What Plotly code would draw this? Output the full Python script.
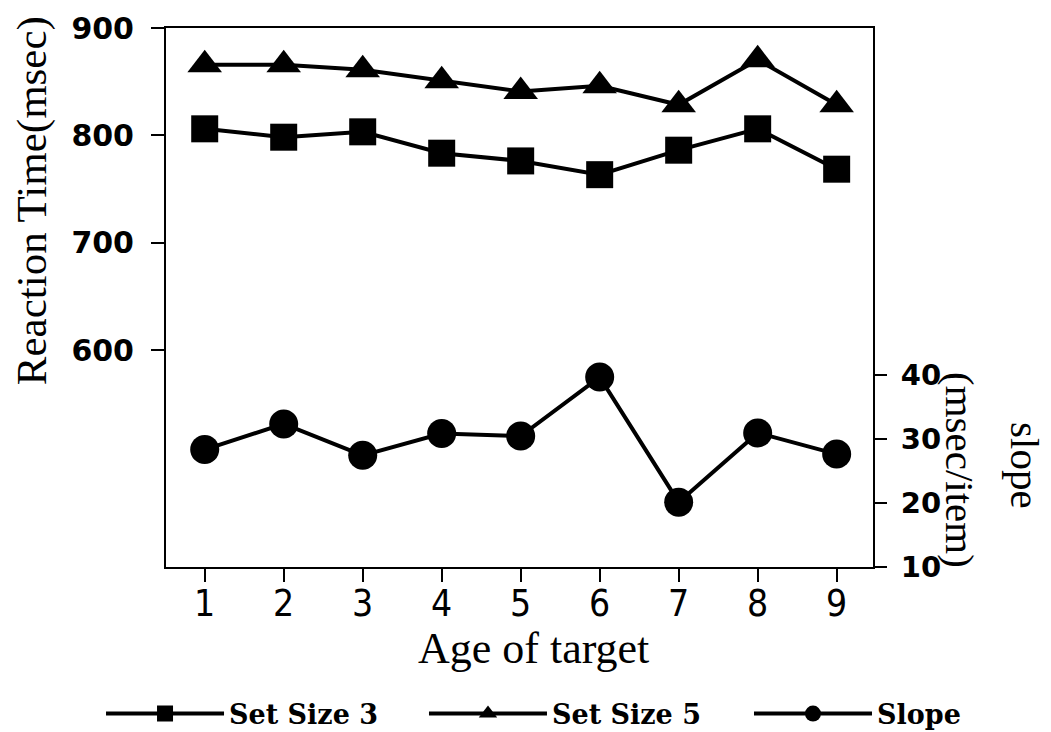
import plotly.graph_objects as go

ages = [1, 2, 3, 4, 5, 6, 7, 8, 9]
set_size_3 = [806.1, 798.3, 803.3, 783.4, 776.2, 763.4, 786.2, 806.1, 768.5]
set_size_5 = [865.8, 865.8, 861.1, 850.8, 840.9, 846.2, 828.5, 870.4, 828.5]
slope = [28.3, 32.3, 27.4, 30.8, 30.4, 39.6, 20.1, 30.9, 27.6]

left_ticks = [600, 700, 800, 900]
right_ticks = [10, 20, 30, 40]

fig = go.Figure()
line_style = dict(color="black", width=4)
fig.add_trace(go.Scatter(x=ages, y=set_size_3, name="Set Size 3", mode="lines+markers",
                         line=line_style, legend="legend",
                         marker=dict(symbol="square", size=27, color="black")))
fig.add_trace(go.Scatter(x=ages, y=set_size_5, name="Set Size 5", mode="lines+markers",
                         line=line_style, legend="legend2",
                         marker=dict(symbol="triangle-up", size=30, color="black")))
fig.add_trace(go.Scatter(x=ages, y=slope, name="Slope", mode="lines+markers", yaxis="y2",
                         line=line_style, legend="legend3",
                         marker=dict(symbol="circle", size=29, color="black")))

legend_font = dict(family="DejaVu Serif", size=27, weight="bold", color="black")


def legend_at(xpaper):
    return dict(orientation="h", x=xpaper, xanchor="left", y=-0.2727, yanchor="middle",
                itemwidth=118, font=legend_font, bgcolor="rgba(0,0,0,0)")


title_font = dict(family="Liberation Serif", size=43, color="black")

fig.update_layout(
    width=1051, height=732,
    paper_bgcolor="white", plot_bgcolor="white",
    margin=dict(l=158, r=186, t=20, b=173, autoexpand=False),
    showlegend=True,
    legend=legend_at(-0.0919),
    legend2=legend_at(0.3649),
    legend3=legend_at(0.8246),
    xaxis=dict(range=[0.51, 9.46], tickvals=ages, ticks="outside", ticklen=13, tickwidth=2,
               tickcolor="black", showline=True, linecolor="black", linewidth=2, mirror=True,
               showgrid=False, zeroline=False, ticklabelstandoff=-10,
               tickfont=dict(family="Liberation Sans Narrow, DejaVu Sans Condensed", size=37, color="black")),
    yaxis=dict(range=[398, 900], tickvals=left_ticks, ticks="outside", ticklen=13, tickwidth=2,
               tickcolor="black", showline=True, linecolor="black", linewidth=2,
               showgrid=False, zeroline=False, ticklabelstandoff=11,
               tickfont=dict(family="DejaVu Sans", size=30, weight="bold", color="black")),
    yaxis2=dict(range=[10, 94], tickvals=right_ticks, overlaying="y", side="right",
                ticks="outside", ticklen=12, tickwidth=2, tickcolor="black",
                showline=True, linecolor="black", linewidth=2, ticklabelstandoff=8,
                showgrid=False, zeroline=False,
                tickfont=dict(family="DejaVu Sans", size=29, weight="bold", color="black")),
    annotations=[
        dict(text="Reaction Time(msec)", textangle=-90, xref="paper", yref="paper",
             x=-0.1893, y=0.679, xanchor="center", yanchor="middle", showarrow=False,
             font=title_font),
        dict(text="Age of target", xref="paper", yref="paper",
             x=0.5205, y=-0.151, xanchor="center", yanchor="middle", showarrow=False,
             font=dict(family="Liberation Serif", size=44, color="black")),
        dict(text="slope", textangle=90, xref="paper", yref="paper",
             x=1.215, y=0.189, xanchor="center", yanchor="middle", showarrow=False,
             font=dict(family="Liberation Serif", size=41, color="black")),
        dict(text="(msec/item)", textangle=90, xref="paper", yref="paper",
             x=1.123, y=0.180, xanchor="center", yanchor="middle", showarrow=False,
             font=dict(family="Liberation Serif", size=41, color="black")),
    ],
)

fig.write_html("out.html")
